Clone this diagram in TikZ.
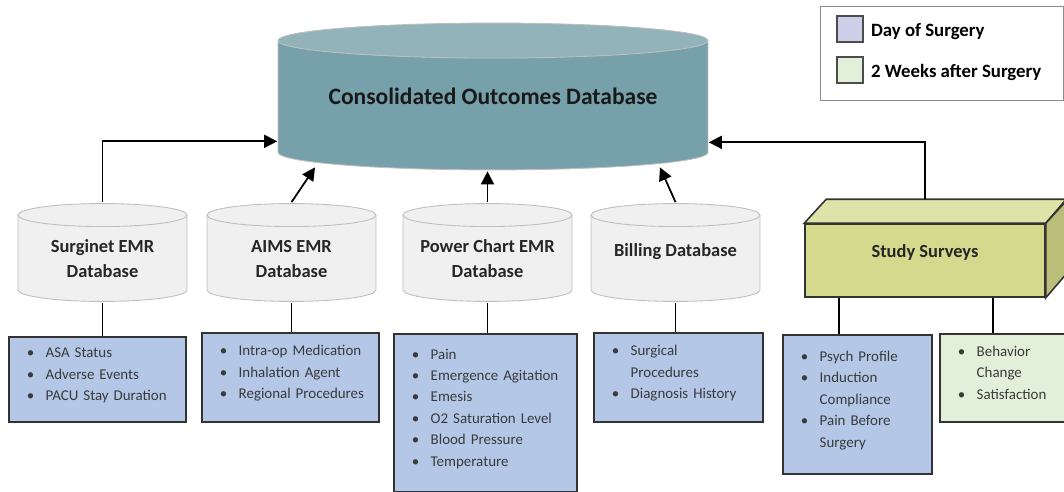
\documentclass[tikz,border=0pt]{standalone}
\usepackage{fontspec}
\setmainfont{Carlito}
\usetikzlibrary{arrows.meta, positioning}

\definecolor{mainside}{HTML}{76A1AA}
\definecolor{maintop}{HTML}{93B3BA}
\definecolor{dbgray}{HTML}{F0F0F0}
\definecolor{dayblue}{HTML}{B4C7E7}
\definecolor{weekgreen}{HTML}{E2EFD9}
\definecolor{legblue}{HTML}{CBD0E8}
\definecolor{survfront}{HTML}{D4D98D}
\definecolor{survtop}{HTML}{DEE3A9}
\definecolor{survside}{HTML}{B9BE79}
\definecolor{txtgray}{HTML}{3A3A3A}

% cylinder drawn inside a node: half width, end radius, body colour, top colour, border colour
\newcommand{\drawdb}[5]{%
  \coordinate (dbtop) at ([yshift=-#2-0.6pt]path picture bounding box.north);
  \coordinate (dbbot) at ([yshift=#2+0.6pt]path picture bounding box.south);
  \draw[draw=#5, fill=#3, line width=0.5pt] ([xshift=-#1]dbtop) -- ([xshift=-#1]dbbot)
    arc[start angle=180, end angle=360, x radius=#1, y radius=#2] -- ([xshift=#1]dbtop) -- cycle;
  \draw[draw=#5, fill=#4, line width=0.5pt] (dbtop) ellipse[x radius=#1, y radius=#2];
}
\newcommand{\itemlist}[1]{\begin{tabular}{@{}l@{\hspace{2.3mm}}l@{}}#1\\[5pt]\end{tabular}}

\begin{document}
\begin{tikzpicture}[x=0.02cm, y=-0.02cm,
  db/.style={rectangle, minimum width=3.4cm, minimum height=2cm, align=center, text height=28.4pt,
    path picture={\drawdb{1.69cm}{0.23cm}{dbgray}{dbgray}{black!25}},
    font=\bfseries\fontsize{10.5}{14}\selectfont, text=black!85},
  list/.style={rectangle, draw=black!80, line width=0.9pt, fill=dayblue, anchor=north west,
    inner xsep=0.36cm, align=left, font=\fontsize{8.5}{12.2}\selectfont, text=txtgray},
  key/.style={rectangle, draw=black!70, line width=0.8pt, minimum size=0.52cm},
  keytext/.style={right=0.14cm of #1, yshift=-0.06cm, inner sep=0pt, font=\bfseries\fontsize{10.7}{12}\selectfont},
  arrow/.style={-{Triangle[length=0.26cm, width=0.26cm]}, line width=1pt},
  link/.style={line width=1pt}
]
  \useasboundingbox (0,0) rectangle (1064,492);
  \clip (0,0) rectangle (1064,492);

  % central database
  \node[rectangle, minimum width=8.62cm, minimum height=2.98cm,
    path picture={\drawdb{4.3cm}{0.35cm}{mainside}{maintop}{black!25}},
    font=\bfseries\fontsize{13.4}{16}\selectfont, text=black!90] (main) at (493,96.5) {Consolidated Outcomes Database};

  % source databases
  \node[db] (surg) at (102.5,252.5) {Surginet EMR\\Database};
  \node[db] (aims) at (291.5,252.5) {AIMS EMR\\Database};
  \node[db] (pc) at (487.5,252.5) {Power Chart EMR\\Database};
  \node[db, text height=7.3pt, text depth=3.3pt] (bill) at (675.5,252.5) {Billing Database};

  % surveys block
  \node[rectangle, draw=black!80, line width=0.9pt, fill=survfront, minimum width=4.8cm, minimum height=1.46cm,
    text depth=11pt, font=\bfseries\fontsize{10.5}{12}\selectfont, text=black!85] (surv) at (925,260.5) {Study Surveys};
  \draw[draw=black!80, line width=0.9pt, fill=survtop] (surv.north west) -- ++(22,-24) -- ++(240,0) -- (surv.north east) -- cycle;
  \draw[draw=black!80, line width=0.9pt, fill=survside] (surv.north east) -- ++(22,-24) -- ++(0,73) -- (surv.south east) -- cycle;

  % outcome lists
  \node[list, text width=2.82cm, minimum height=1.7cm] (asa) at (8,336)
    {\itemlist{\textbullet & ASA Status\\ \textbullet & Adverse Events\\ \textbullet & PACU Stay Duration}};
  \node[list, text width=2.82cm, minimum height=1.78cm] (med) at (201,332)
    {\itemlist{\textbullet & Intra-op Medication\\ \textbullet & Inhalation Agent\\ \textbullet & Regional Procedures}};
  \node[list, text width=2.94cm, minimum height=3.16cm] (pain) at (393,333)
    {\itemlist{\textbullet & Pain\\ \textbullet & Emergence Agitation\\ \textbullet & Emesis\\ \textbullet & O2 Saturation Level\\ \textbullet & Blood Pressure\\ \textbullet & Temperature}};
  \node[list, text width=2.66cm, minimum height=1.78cm] (proc) at (593,332)
    {\itemlist{\textbullet & Surgical\\ & Procedures\\ \textbullet & Diagnosis History}};
  \node[list, text width=2.26cm, minimum height=2.78cm] (psych) at (782,334)
    {\itemlist{\textbullet & Psych Profile\\ \textbullet & Induction\\ & Compliance\\ \textbullet & Pain Before\\ & Surgery}};
  \node[list, fill=weekgreen, text width=1.9cm, minimum height=1.76cm] (behav) at (939,333)
    {\itemlist{\textbullet & Behavior\\ & Change\\ \textbullet & Satisfaction}};

  % arrows into the central database
  \coordinate (inleft) at ([yshift=0.6cm]main.south -| main.west);
  \coordinate (inright) at ([yshift=0.58cm]main.south -| main.east);
  \draw[arrow] (surg.north) |- (inleft);
  \draw[arrow] (aims.north) -- ([xshift=-3.56cm, yshift=0.08cm]main.south);
  \draw[arrow] (pc.north) -- (pc.north |- main.south);
  \draw[arrow] (bill.north) -- ([xshift=3.34cm, yshift=0.08cm]main.south);
  \draw[arrow] ([yshift=0.48cm]surv.north) |- (inright);

  % links down to the lists
  \draw[link] (surg.south) -- (surg.south |- asa.north);
  \draw[link] (aims.south) -- (aims.south |- med.north);
  \draw[link] (pc.south) -- (pc.south |- pain.north);
  \draw[link] (bill.south) -- (bill.south |- proc.north);
  \draw[link] ([xshift=-1.72cm]surv.south) -- ([xshift=-1.72cm]surv.south |- psych.north);
  \draw[link] ([xshift=1.36cm]surv.south) -- ([xshift=1.36cm]surv.south |- behav.north);

  % legend
  \node[rectangle, draw=black!45, line width=0.6pt, minimum width=4.86cm, minimum height=1.88cm] (legend) at (942,53.5) {};
  \node[key, fill=legblue] (daykey) at (850,29) {};
  \node[key, fill=weekgreen] (weekkey) at (850,70) {};
  \node[keytext=daykey] (daytext) {Day of Surgery};
  \node[keytext=weekkey] (weektext) {2 Weeks after Surgery};
\end{tikzpicture}
\end{document}
